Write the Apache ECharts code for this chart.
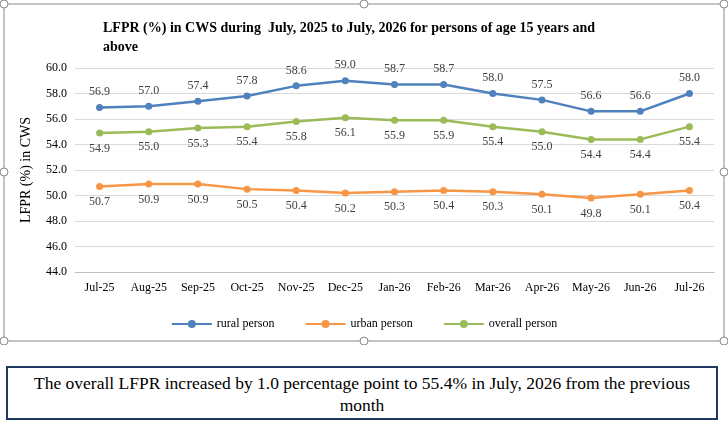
<!DOCTYPE html>
<html><head><meta charset="utf-8">
<script src="https://cdn.jsdelivr.net/npm/echarts@6/dist/echarts.min.js"></script>
<style>
body{margin:0;background:#fff;font-family:'Liberation Serif',serif;}
#chart{position:absolute;left:0;top:0;width:728px;height:345px;}
#note{position:absolute;left:6px;top:366px;width:712px;height:54px;border:2px solid #1f3864;box-sizing:border-box;
 font-size:17.5px;text-align:center;line-height:22px;padding:4px 10px 0;color:#000;}
</style></head><body>
<div id="chart"></div>
<div id="note">The overall LFPR increased by 1.0 percentage point to 55.4% in July, 2026 from the previous month</div>
<script>
var months = ['Jul-25','Aug-25','Sep-25','Oct-25','Nov-25','Dec-25','Jan-26','Feb-26','Mar-26','Apr-26','May-26','Jun-26','Jul-26'];
var rural = [56.9,57.0,57.4,57.8,58.6,59.0,58.7,58.7,58.0,57.5,56.6,56.6,58.0];
var urban = [50.7,50.9,50.9,50.5,50.4,50.2,50.3,50.4,50.3,50.1,49.8,50.1,50.4];
var overall = [54.9,55.0,55.3,55.4,55.8,56.1,55.9,55.9,55.4,55.0,54.4,54.4,55.4];

var chart = echarts.init(document.getElementById('chart'));
function mk(name, data, color, pos) {
    return {
        name: name, type: 'line', data: data, symbol: 'circle', symbolSize: 7,
        itemStyle: {color: color}, lineStyle: {color: color, width: 2.5},
        label: {show: true, position: pos, distance: 6, color: '#404040', fontSize: 12,
            fontFamily: 'Liberation Serif', formatter: function (p) { return p.value.toFixed(1); }}
    };
}
var handles = [];
[[4,4],[364,4],[724,4],[4,172],[724,172],[4,341],[364,341],[724,341]].forEach(function (c) {
    handles.push({type: 'circle', shape: {cx: c[0], cy: c[1], r: 4}, style: {fill: '#fff', stroke: '#888', lineWidth: 1}, z: 10});
});
chart.setOption({
    animation: false,
    textStyle: {fontFamily: 'Liberation Serif'},
    title: {
        text: 'LFPR (%) in CWS during  July, 2025 to July, 2026 for persons of age 15 years and\nabove',
        left: 98, top: 14,
        textStyle: {fontSize: 14, fontWeight: 'bold', color: '#000', lineHeight: 19, fontFamily: 'Liberation Serif'}
    },
    graphic: [{type: 'rect', shape: {x: 4, y: 4, width: 720, height: 337}, style: {fill: 'none', stroke: '#888', lineWidth: 1}}].concat(handles),
    legend: {
        bottom: 10, left: 'center', itemWidth: 40, itemHeight: 10, itemGap: 30,
        data: ['rural person', 'urban person', 'overall person'],
        textStyle: {fontSize: 12, color: '#000', fontFamily: 'Liberation Serif'}
    },
    grid: {left: 75, right: 14, top: 68, bottom: 73},
    xAxis: {
        type: 'category', data: months,
        axisLine: {lineStyle: {color: '#bfbfbf'}}, axisTick: {show: false},
        axisLabel: {color: '#000', fontSize: 12, margin: 10, interval: 0}
    },
    yAxis: {
        type: 'value', min: 44, max: 60, interval: 2,
        name: 'LFPR (%) in CWS', nameLocation: 'middle', nameGap: 42,
        nameTextStyle: {fontSize: 14, color: '#000'},
        axisLabel: {color: '#000', fontSize: 12, formatter: function (v) { return v.toFixed(1); }},
        splitLine: {lineStyle: {color: '#d9d9d9'}}
    },
    series: [
        mk('rural person', rural, '#4f81bd', 'top'),
        mk('urban person', urban, '#f79646', 'bottom'),
        mk('overall person', overall, '#9bbb59', 'bottom')
    ]
});
</script>
</body></html>
